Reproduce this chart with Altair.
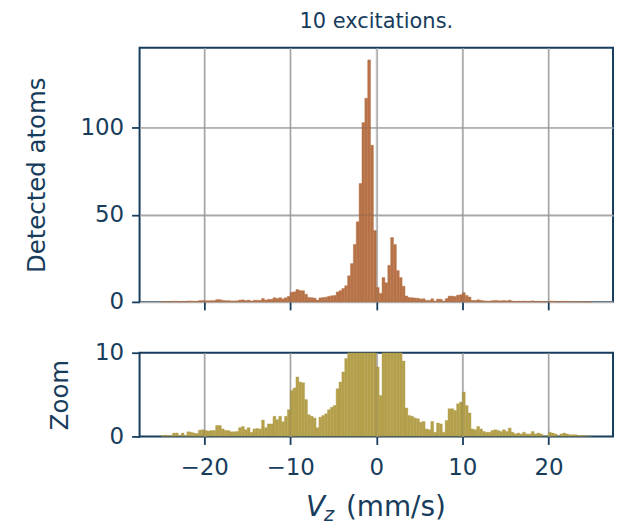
import altair as alt
import pandas as pd

# Histogram: 150 bins of 1/3 mm/s from -25 to 25 mm/s
bin_width = 1.0 / 3.0
first_edge = -25.0
counts = [
    0.1, 0.15, 0.1, 0.1, 0.4, 0.4, 0.1, 0.4, 0.1, 0.55,
    0.5, 0.4, 0.35, 0.75, 0.8, 0.7, 0.65, 0.7, 0.7, 1.3,
    1.3, 0.9, 0.7, 0.7, 0.55, 0.55, 0.6, 1.05, 1.2, 0.8,
    1.05, 0.5, 0.9, 0.95, 0.9, 1.95, 1.05, 1.5, 1.5, 2.4,
    2.0, 2.4, 1.75, 2.4, 3.2, 5.5, 5.8, 7.1, 6.5, 6.4,
    4.4, 2.6, 2.4, 2.2, 1.05, 2.3, 2.5, 2.7, 3.2, 3.5,
    3.7, 5.7, 6.5, 7.7, 9.3, 15, 22, 33, 46, 68,
    103, 117, 139, 90, 41, 8.3, 4.9, 14, 11, 21,
    37, 33, 18, 14, 9.0, 3.4, 2.5, 2.4, 2.2, 2.1,
    1.7, 1.8, 0.9, 0.8, 1.8, 0.5, 1.6, 1.5, 0.5, 1.9,
    3.3, 3.3, 3.1, 3.9, 4.1, 5.3, 3.7, 2.8, 0.9, 0.8,
    1.2, 0.9, 0.6, 0.5, 0.5, 0.7, 0.8, 0.7, 0.6, 0.8,
    0.6, 1.0, 0.5, 0.3, 0.4, 0.3, 0.5, 0.3, 0.3, 0.6,
    0.3, 0.4, 0.3, 0.0, 0.1, 0.5, 0.4, 0.3, 0.0, 0.3,
    0.4, 0.3, 0.2, 0.2, 0.2, 0.1, 0.1, 0.1, 0.0, 0.0,
]
x_ticks = [-20, -10, 0, 10, 20]
top_y_ticks = [0, 50, 100]
top_y_grid = [50, 100]
zoom_y_ticks = [0, 10]
title_text = "10 excitations."
top_ylabel = "Detected atoms"
zoom_ylabel = "Zoom"

df = pd.DataFrame({
    "v0": [first_edge + i * bin_width for i in range(len(counts))],
    "count": counts,
})
df["v1"] = df["v0"] + bin_width
xgrid_df = pd.DataFrame({"x": x_ticks})
ygrid_df = pd.DataFrame({"y": top_y_grid})

NAVY = "#173c5c"
GRID = "#b4b4b4"
TOP_COLOR = "#b77247"
ZOOM_COLOR = "#b4a04b"
FONT = "DejaVu Sans"
W = 475

xscale = alt.Scale(domain=[-27.5, 27.5], nice=False, zero=False)
top_yscale = alt.Scale(domain=[0, 146], nice=False)
zoom_yscale = alt.Scale(domain=[0, 10], nice=False)

def xaxis(labels):
    return alt.Axis(values=x_ticks, labels=labels, title=None, grid=True,
                    gridColor=GRID, gridWidth=1.6, domain=False,
                    tickColor=NAVY, tickWidth=1.8, tickSize=8,
                    labelFont=FONT, labelFontSize=23, labelColor=NAVY,
                    labelPadding=12, format="d")

def yaxis(vals, title, grid, tpad):
    return alt.Axis(values=vals, title=title, grid=grid, gridColor=GRID,
                    gridWidth=1.6, domain=False, tickColor=NAVY, tickWidth=1.8,
                    tickSize=8, labelFont=FONT, labelFontSize=23,
                    labelColor=NAVY, labelPadding=8, titleFont=FONT,
                    titleFontSize=24.5, titleFontWeight="normal",
                    titleColor=NAVY, titlePadding=tpad)

top_bars = alt.Chart(df).mark_rect(
    color=TOP_COLOR, stroke=TOP_COLOR, strokeWidth=0.4
).encode(
    x=alt.X("v0:Q", scale=xscale, axis=xaxis(False)),
    x2="v1:Q",
    y=alt.Y("count:Q", scale=top_yscale,
            axis=yaxis(top_y_ticks, top_ylabel, True, 30)),
    y2=alt.datum(0),
)
top_vgrid = alt.Chart(xgrid_df).mark_rule(color="#5a5a5a", opacity=0.18, strokeWidth=1.6).encode(
    x=alt.X("x:Q", scale=xscale))
top_hgrid = alt.Chart(ygrid_df).mark_rule(color="#5a5a5a", opacity=0.18, strokeWidth=1.6).encode(
    y=alt.Y("y:Q", scale=top_yscale))

top = alt.layer(top_bars, top_vgrid, top_hgrid).properties(
    width=W, height=255,
    title=alt.Title(title_text, font=FONT, fontSize=21, fontWeight="normal",
                    color=NAVY, offset=15),
)

zoom_bars = alt.Chart(df).mark_rect(
    color=ZOOM_COLOR, stroke=ZOOM_COLOR, strokeWidth=0.4, clip=True
).encode(
    x=alt.X("v0:Q", scale=xscale, axis=xaxis(True)),
    x2="v1:Q",
    y=alt.Y("count:Q", scale=zoom_yscale,
            axis=yaxis(zoom_y_ticks, zoom_ylabel, False, 22)),
    y2=alt.datum(0),
)
zoom_vgrid = alt.Chart(xgrid_df).mark_rule(color="#5a5a5a", opacity=0.18, strokeWidth=1.6).encode(
    x=alt.X("x:Q", scale=xscale))

lab_V = alt.Chart(df.head(1)).mark_text(
    text="V", font=FONT, fontSize=28, fontStyle="italic", align="left",
    baseline="alphabetic", color=NAVY
).encode(x=alt.value(167), y=alt.value(164))
lab_z = alt.Chart(df.head(1)).mark_text(
    text="z", font=FONT, fontSize=19.5, fontStyle="italic", align="left",
    baseline="alphabetic", color=NAVY
).encode(x=alt.value(185), y=alt.value(169))
lab_unit = alt.Chart(df.head(1)).mark_text(
    text="(mm/s)", font=FONT, fontSize=28, align="left",
    baseline="alphabetic", color=NAVY
).encode(x=alt.value(207), y=alt.value(164))

bottom = alt.layer(zoom_bars, zoom_vgrid, lab_V, lab_z, lab_unit).properties(width=W, height=84)

chart = alt.vconcat(top, bottom, spacing=51, bounds="flush").properties(
    padding={"left": 16, "top": 1, "right": 5, "bottom": 0}
).configure(
    background="white",
    view=alt.ViewConfig(stroke=NAVY, strokeWidth=2),
)

chart.save("out.html", embed_options={"renderer": "svg", "actions": False})
